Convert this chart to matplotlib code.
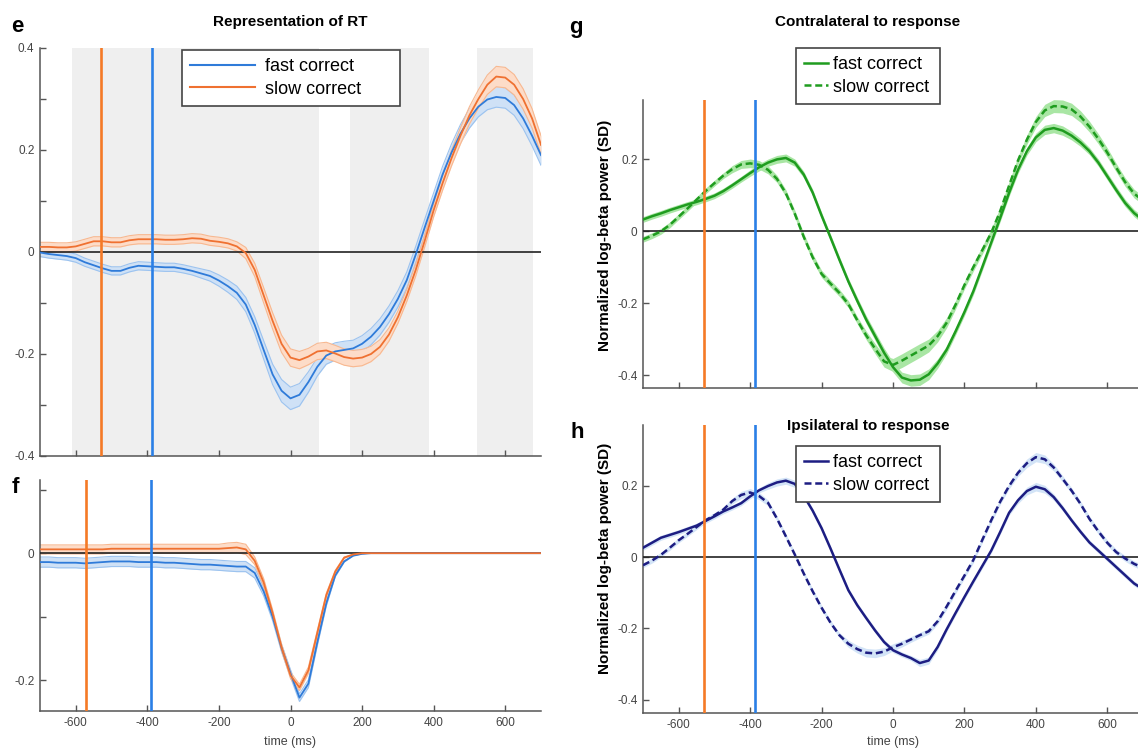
import numpy as np
import matplotlib.pyplot as plt
from matplotlib.lines import Line2D

plt.rcParams['font.family'] = ['Liberation Sans', 'DejaVu Sans']

# time axis (ms, response-locked), one sample every 25 ms
t = np.arange(-700, 701, 25)

# e: representation of RT
e_fast = [-0.001, -0.004, -0.006, -0.008, -0.012, -0.020, -0.026, -0.032, -0.037, -0.037,
          -0.031, -0.027, -0.028, -0.029, -0.030, -0.030, -0.033, -0.037, -0.042, -0.047,
          -0.056, -0.067, -0.080, -0.103, -0.143, -0.192, -0.240, -0.272, -0.287, -0.280,
          -0.255, -0.225, -0.203, -0.195, -0.192, -0.189, -0.180, -0.166, -0.147, -0.122,
          -0.092, -0.055, -0.005, 0.048, 0.100, 0.152, 0.195, 0.232, 0.262, 0.285,
          0.299, 0.304, 0.302, 0.288, 0.262, 0.228, 0.190]
e_slow = [0.010, 0.010, 0.009, 0.009, 0.011, 0.016, 0.021, 0.021, 0.019, 0.019,
          0.023, 0.025, 0.025, 0.025, 0.024, 0.024, 0.025, 0.027, 0.026, 0.022,
          0.020, 0.017, 0.011, -0.002, -0.035, -0.085, -0.135, -0.180, -0.207, -0.212,
          -0.205, -0.195, -0.193, -0.199, -0.206, -0.209, -0.207, -0.200, -0.186, -0.162,
          -0.128, -0.085, -0.035, 0.022, 0.082, 0.135, 0.184, 0.228, 0.268, 0.300,
          0.328, 0.344, 0.342, 0.328, 0.300, 0.262, 0.210]
e_fast_sem = ([0.008] * 18 + [0.009, 0.010, 0.011, 0.012, 0.013]
              + [0.014, 0.016, 0.018, 0.020, 0.022, 0.022]
              + [0.022, 0.020, 0.018, 0.017, 0.017, 0.017] + [0.016] * 11
              + [0.017, 0.018, 0.019] + [0.020] * 8)
e_slow_sem = ([0.009] * 23 + [0.011, 0.013, 0.015, 0.016, 0.017, 0.017]
              + [0.017] + [0.016] * 7 + [0.015, 0.014, 0.013, 0.012]
              + [0.012, 0.012, 0.012, 0.013, 0.014, 0.015, 0.016, 0.017, 0.018, 0.019,
                 0.020, 0.020, 0.020, 0.020, 0.019, 0.018])
# windows where fast and slow differ
sig_windows = [(-610, 80), (167, 386), (521, 678)]

# f
f_fast = ([-0.014, -0.014, -0.015, -0.015, -0.015, -0.016, -0.015, -0.014, -0.013, -0.013,
           -0.013, -0.014, -0.014, -0.014, -0.015, -0.015, -0.016, -0.017, -0.018, -0.018, -0.019]
          + [-0.020, -0.021, -0.021, -0.031, -0.060, -0.100, -0.149, -0.189, -0.227, -0.205,
             -0.140, -0.079, -0.035, -0.013, -0.004, -0.001] + [0.0] * 20)
f_slow = ([0.006] * 8 + [0.007] * 13
          + [0.008, 0.009, 0.006, -0.012, -0.046, -0.094, -0.148, -0.192, -0.211, -0.184,
             -0.125, -0.066, -0.029, -0.007, -0.002, 0.0] + [0.0] * 20)
f_fast_sem = ([0.008] * 24 + [0.008, 0.007, 0.006, 0.006, 0.006, 0.006, 0.006, 0.005, 0.004]
              + [0.002, 0.001, 0.0, 0.0] + [0.0] * 20)
f_slow_sem = ([0.007] * 21 + [0.008] * 3
              + [0.006, 0.006, 0.005, 0.005, 0.005, 0.005, 0.005, 0.004, 0.003]
              + [0.002, 0.001, 0.0, 0.0] + [0.0] * 20)

# g: contralateral beta power
g_fast = [0.032, 0.041, 0.049, 0.058, 0.066, 0.074, 0.081, 0.089, 0.098, 0.111,
          0.127, 0.144, 0.161, 0.177, 0.190, 0.199, 0.203, 0.190, 0.157, 0.107,
          0.043, -0.018, -0.080, -0.140, -0.194, -0.246, -0.292, -0.338, -0.378, -0.407,
          -0.415, -0.413, -0.398, -0.368, -0.330, -0.279, -0.225, -0.167, -0.100, -0.032,
          0.036, 0.106, 0.170, 0.222, 0.260, 0.281, 0.286, 0.279, 0.265, 0.246,
          0.222, 0.190, 0.152, 0.114, 0.078, 0.050, 0.030]
g_slow = [-0.023, -0.013, -0.001, 0.017, 0.040, 0.063, 0.087, 0.111, 0.133, 0.154,
          0.172, 0.185, 0.188, 0.184, 0.170, 0.145, 0.105, 0.048, -0.016, -0.073,
          -0.119, -0.146, -0.172, -0.203, -0.248, -0.290, -0.327, -0.362, -0.372, -0.360,
          -0.346, -0.332, -0.318, -0.292, -0.255, -0.205, -0.150, -0.100, -0.053, -0.005,
          0.055, 0.126, 0.196, 0.254, 0.303, 0.335, 0.347, 0.346, 0.338, 0.318,
          0.290, 0.256, 0.218, 0.176, 0.136, 0.104, 0.085]
g_fast_sem = ([0.008] * 12 + [0.009, 0.010, 0.010, 0.011, 0.011, 0.010] + [0.009] * 6
              + [0.010, 0.011, 0.012, 0.013, 0.014, 0.015, 0.016, 0.016, 0.015, 0.013, 0.011]
              + [0.010] * 8
              + [0.011, 0.012, 0.013, 0.013, 0.013, 0.012, 0.011] + [0.010] * 7)
g_slow_sem = ([0.008] * 10 + [0.010, 0.011, 0.012, 0.012, 0.011] + [0.010] * 10
              + [0.012, 0.014, 0.016, 0.018, 0.019, 0.019, 0.019, 0.018, 0.016, 0.014, 0.012]
              + [0.011] * 7
              + [0.013, 0.015, 0.017, 0.018, 0.018, 0.017, 0.016, 0.015, 0.014, 0.013]
              + [0.012] * 4)

# h: ipsilateral beta power
h_fast = [0.026, 0.040, 0.054, 0.062, 0.070, 0.079, 0.088, 0.101, 0.114, 0.128,
          0.139, 0.151, 0.170, 0.187, 0.199, 0.209, 0.214, 0.205, 0.172, 0.130,
          0.081, 0.024, -0.035, -0.093, -0.135, -0.171, -0.206, -0.238, -0.261, -0.273,
          -0.283, -0.297, -0.290, -0.252, -0.203, -0.157, -0.112, -0.068, -0.025, 0.018,
          0.070, 0.124, 0.159, 0.185, 0.197, 0.190, 0.168, 0.137, 0.103, 0.071,
          0.041, 0.018, -0.005, -0.028, -0.051, -0.074, -0.090]
h_slow = [-0.023, -0.010, 0.006, 0.026, 0.047, 0.065, 0.084, 0.103, 0.117, 0.133,
          0.157, 0.174, 0.181, 0.171, 0.152, 0.108, 0.058, 0.007, -0.046, -0.096,
          -0.142, -0.184, -0.219, -0.243, -0.258, -0.268, -0.270, -0.265, -0.253, -0.243,
          -0.231, -0.219, -0.208, -0.180, -0.139, -0.095, -0.052, -0.008, 0.048, 0.103,
          0.155, 0.199, 0.236, 0.263, 0.280, 0.274, 0.251, 0.219, 0.186, 0.149,
          0.107, 0.072, 0.040, 0.014, -0.004, -0.019, -0.030]
h_fast_sem = ([0.007] * 14 + [0.009, 0.010, 0.010, 0.010, 0.009] + [0.007] * 12
              + [0.010, 0.010, 0.008] + [0.007] * 8
              + [0.009, 0.011, 0.012, 0.011, 0.009, 0.008] + [0.007] * 9)
h_slow_sem = ([0.007] * 10 + [0.008, 0.010, 0.011, 0.010, 0.008] + [0.007] * 8
              + [0.010, 0.011, 0.012, 0.012, 0.011, 0.010, 0.009] + [0.008] * 12
              + [0.010, 0.012, 0.013, 0.012, 0.010, 0.009] + [0.008] * 9)

# mean RT markers (ms before response)
rt_marks_e = {'slow': -530, 'fast': -387}
rt_marks_f = {'slow': -572, 'fast': -390}

xticks = [-600, -400, -200, 0, 200, 400, 600]

BLUE = '#2f7bd9'
ORANGE = '#ef7131'
VBLUE = '#2a7fe6'
VORANGE = '#f57a26'
GREEN = '#1f9c1f'
NAVY = '#1d1d82'
AXC = '#555555'

W, H = 1138, 748


def box(x0, y0, x1, y1):
    return [x0 / W, 1 - y1 / H, (x1 - x0) / W, (y1 - y0) / H]


def fx(px):
    return px / W


def fy(py):
    return 1 - py / H


def style(ax, ylim, yticks, ylabels, xlabels=False):
    ax.set_xlim(-700, 700)
    ax.set_ylim(*ylim)
    for s in ['top', 'right']:
        ax.spines[s].set_visible(False)
    for s in ['left', 'bottom']:
        ax.spines[s].set_color(AXC)
        ax.spines[s].set_linewidth(1.1)
    ax.set_xticks(xticks)
    if xlabels:
        ax.set_xticklabels([str(v) for v in xticks])
    else:
        ax.set_xticklabels([])
    ax.set_yticks(yticks)
    ax.set_yticklabels(ylabels)
    ax.tick_params(direction='in', length=4, width=1, color=AXC, labelcolor='#444444',
                   labelsize=8.5, pad=4)
    ax.axhline(0, color='#222222', lw=1.2, zorder=3)


def band(ax, m, s, line_color, fill_color, edge_color=None, ls='-', lw=1.3):
    m = np.asarray(m)
    s = np.asarray(s)
    ax.fill_between(t, m - s, m + s, color=fill_color, lw=0, zorder=2)
    if edge_color is not None:
        ax.plot(t, m - s, color=edge_color, lw=0.8, zorder=2)
        ax.plot(t, m + s, color=edge_color, lw=0.8, zorder=2)
    ax.plot(t, m, color=line_color, lw=lw, ls=ls, zorder=4)


fig = plt.figure(figsize=(11.38, 7.48), dpi=100)
ax_e = fig.add_axes(box(40, 48, 541, 456))
ax_f = fig.add_axes(box(40, 480, 541, 711))
ax_g = fig.add_axes(box(643, 100, 1143, 388))
ax_h = fig.add_axes(box(643, 425, 1143, 713))

# ---- e
style(ax_e, (-0.4, 0.4), np.round(np.arange(-0.4, 0.41, 0.1), 1),
      ['-0.4', '', '-0.2', '', '0', '', '0.2', '', '0.4'])
for a, b in sig_windows:
    ax_e.axvspan(a, b, color='#efefef', lw=0, zorder=0)
band(ax_e, e_fast, e_fast_sem, BLUE, '#cfe1f6', '#9cc3ef')
band(ax_e, e_slow, e_slow_sem, ORANGE, '#fddcc8', '#f8b890')
ax_e.axvline(rt_marks_e['slow'], color=VORANGE, lw=1.9, zorder=5)
ax_e.axvline(rt_marks_e['fast'], color=VBLUE, lw=1.9, zorder=5)

# ---- f
style(ax_f, (-0.248, 0.115), [-0.2, -0.1, 0, 0.1], ['-0.2', '', '0', ''], xlabels=True)
band(ax_f, f_fast, f_fast_sem, BLUE, '#cfe1f6', '#9cc3ef')
band(ax_f, f_slow, f_slow_sem, ORANGE, '#fddcc8', '#f8b890')
ax_f.axvline(rt_marks_f['slow'], color=VORANGE, lw=1.9, zorder=5)
ax_f.axvline(rt_marks_f['fast'], color=VBLUE, lw=1.9, zorder=5)

# ---- g
style(ax_g, (-0.436, 0.364), [-0.4, -0.2, 0, 0.2], ['-0.4', '-0.2', '0', '0.2'])
band(ax_g, g_fast, g_fast_sem, GREEN, '#a9e6a4', lw=1.8)
band(ax_g, g_slow, g_slow_sem, GREEN, '#a9e6a4', ls=(0, (2.8, 1.5)), lw=1.8)
ax_g.axvline(rt_marks_e['slow'], color=VORANGE, lw=1.9, zorder=5)
ax_g.axvline(rt_marks_e['fast'], color=VBLUE, lw=1.9, zorder=5)

# ---- h
style(ax_h, (-0.437, 0.37), [-0.4, -0.2, 0, 0.2], ['-0.4', '-0.2', '0', '0.2'], xlabels=True)
band(ax_h, h_fast, h_fast_sem, NAVY, '#d3e4f7', lw=1.8)
band(ax_h, h_slow, h_slow_sem, NAVY, '#d3e4f7', ls=(0, (2.8, 1.5)), lw=1.8)
ax_h.axvline(rt_marks_e['slow'], color=VORANGE, lw=1.9, zorder=5)
ax_h.axvline(rt_marks_e['fast'], color=VBLUE, lw=1.9, zorder=5)

# legends
labels = ['fast correct', 'slow correct']


def add_legend(handles, x0, y0, x1, y1, hlen, hpad):
    leg = fig.legend(handles, labels, loc='upper left',
                     bbox_to_anchor=(fx(x0), fy(y1), (x1 - x0) / W, (y1 - y0) / H),
                     mode='expand', borderaxespad=0, fontsize=13, fancybox=False,
                     framealpha=1, handlelength=hlen, handletextpad=hpad,
                     borderpad=0.45, labelspacing=0.3)
    leg.get_frame().set_edgecolor('#444444')
    leg.get_frame().set_linewidth(1.2)
    return leg


add_legend([Line2D([], [], color=BLUE, lw=1.5), Line2D([], [], color=ORANGE, lw=1.5)],
           182, 50, 400, 108, 3.6, 0.55)
add_legend([Line2D([], [], color=GREEN, lw=1.8),
            Line2D([], [], color=GREEN, lw=1.8, ls=(0, (2.8, 1.5)))],
           796, 48, 940, 101, 1.3, 0.3)
add_legend([Line2D([], [], color=NAVY, lw=1.8),
            Line2D([], [], color=NAVY, lw=1.8, ls=(0, (2.8, 1.5)))],
           796, 446, 940, 499, 1.3, 0.3)

# titles, panel letters, axis labels
fig.text(fx(290), fy(22), 'Representation of RT', ha='center', va='center',
         fontsize=11, fontweight='bold')
fig.text(fx(868), fy(22), 'Contralateral to response', ha='center', va='center',
         fontsize=11, fontweight='bold')
fig.text(fx(868), fy(426), 'Ipsilateral to response', ha='center', va='center',
         fontsize=11, fontweight='bold')
for letter, x, y in [('e', 17, 27), ('f', 15, 487), ('g', 576, 28), ('h', 577, 432)]:
    fig.text(fx(x), fy(y), letter, ha='center', va='center', fontsize=16, fontweight='bold')
fig.text(fx(290), fy(742), 'time (ms)', ha='center', va='center', fontsize=9, color='#444444')
fig.text(fx(893), fy(742), 'time (ms)', ha='center', va='center', fontsize=9, color='#444444')
for yc in [235, 558]:
    fig.text(fx(605), fy(yc), 'Normalized log-beta power (SD)', ha='center', va='center',
             rotation=90, fontsize=11, fontweight='bold')

fig.savefig('out.png', dpi=100)
